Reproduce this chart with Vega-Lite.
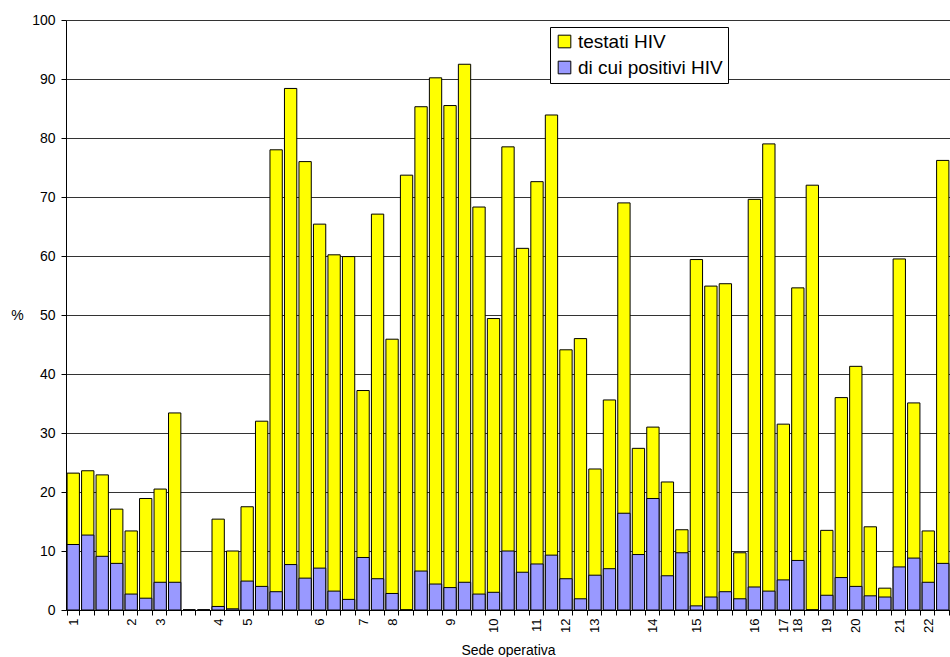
{
  "$schema": "https://vega.github.io/schema/vega-lite/v6.json",
  "width": 884,
  "height": 590,
  "autosize": {"type": "none"},
  "padding": {"left": 66, "top": 20, "right": 0, "bottom": 47},
  "background": "white",
  "config": {
    "view": {"stroke": null},
    "font": "Liberation Sans",
    "axis": {"labelColor": "black", "titleColor": "black", "titleFontWeight": "normal"}
  },
  "data": {
    "values": [
      {"cat": "1", "testati": 23.2, "positivi": 11.1},
      {"cat": "1b", "testati": 23.6, "positivi": 12.7},
      {"cat": "1c", "testati": 22.9, "positivi": 9.1},
      {"cat": "1d", "testati": 17.1, "positivi": 7.9},
      {"cat": "2", "testati": 13.4, "positivi": 2.7},
      {"cat": "2b", "testati": 18.9, "positivi": 2.0},
      {"cat": "3", "testati": 20.5, "positivi": 4.7},
      {"cat": "3b", "testati": 33.4, "positivi": 4.7},
      {"cat": "3c", "testati": 0, "positivi": 0},
      {"cat": "3d", "testati": 0, "positivi": 0},
      {"cat": "4", "testati": 15.4, "positivi": 0.6},
      {"cat": "4b", "testati": 10.0, "positivi": 0.2},
      {"cat": "5", "testati": 17.5, "positivi": 4.9},
      {"cat": "5b", "testati": 32.0, "positivi": 4.0},
      {"cat": "5c", "testati": 78.0, "positivi": 3.1},
      {"cat": "5d", "testati": 88.4, "positivi": 7.7},
      {"cat": "5e", "testati": 76.0, "positivi": 5.4},
      {"cat": "6", "testati": 65.4, "positivi": 7.1},
      {"cat": "6b", "testati": 60.2, "positivi": 3.2},
      {"cat": "6c", "testati": 59.9, "positivi": 1.8},
      {"cat": "7", "testati": 37.2, "positivi": 8.9},
      {"cat": "7b", "testati": 67.1, "positivi": 5.3},
      {"cat": "8", "testati": 45.9, "positivi": 2.8},
      {"cat": "8b", "testati": 73.7, "positivi": 0},
      {"cat": "8c", "testati": 85.3, "positivi": 6.6},
      {"cat": "8d", "testati": 90.2, "positivi": 4.4},
      {"cat": "9", "testati": 85.5, "positivi": 3.8},
      {"cat": "9b", "testati": 92.5, "positivi": 4.7},
      {"cat": "9c", "testati": 68.3, "positivi": 2.7},
      {"cat": "10", "testati": 49.4, "positivi": 3.0},
      {"cat": "10b", "testati": 78.5, "positivi": 10.0},
      {"cat": "10c", "testati": 61.3, "positivi": 6.4},
      {"cat": "11", "testati": 72.6, "positivi": 7.8},
      {"cat": "11b", "testati": 83.9, "positivi": 9.3},
      {"cat": "12", "testati": 44.1, "positivi": 5.3},
      {"cat": "12b", "testati": 46.0, "positivi": 1.9},
      {"cat": "13", "testati": 23.9, "positivi": 5.9},
      {"cat": "13b", "testati": 35.6, "positivi": 7.0},
      {"cat": "13c", "testati": 69.0, "positivi": 16.4},
      {"cat": "13d", "testati": 27.4, "positivi": 9.4},
      {"cat": "14", "testati": 31.0, "positivi": 18.9},
      {"cat": "14b", "testati": 21.7, "positivi": 5.8},
      {"cat": "14c", "testati": 13.6, "positivi": 9.7},
      {"cat": "15", "testati": 59.4, "positivi": 0.7},
      {"cat": "15b", "testati": 54.9, "positivi": 2.2},
      {"cat": "15c", "testati": 55.3, "positivi": 3.1},
      {"cat": "15d", "testati": 9.7, "positivi": 1.9},
      {"cat": "16", "testati": 69.6, "positivi": 3.9},
      {"cat": "16b", "testati": 79.0, "positivi": 3.2},
      {"cat": "17", "testati": 31.5, "positivi": 5.1},
      {"cat": "18", "testati": 54.6, "positivi": 8.4},
      {"cat": "18b", "testati": 72.0, "positivi": 0},
      {"cat": "19", "testati": 13.5, "positivi": 2.5},
      {"cat": "19b", "testati": 36.0, "positivi": 5.5},
      {"cat": "20", "testati": 41.3, "positivi": 4.0},
      {"cat": "20b", "testati": 14.1, "positivi": 2.4},
      {"cat": "20c", "testati": 3.7, "positivi": 2.2},
      {"cat": "21", "testati": 59.5, "positivi": 7.3},
      {"cat": "21b", "testati": 35.1, "positivi": 8.8},
      {"cat": "22", "testati": 13.4, "positivi": 4.7},
      {"cat": "22b", "testati": 76.2, "positivi": 7.9}
    ]
  },
  "encoding": {
    "x": {
      "field": "cat",
      "type": "nominal",
      "sort": null,
      "scale": {"paddingInner": 0.15, "paddingOuter": 0.075},
      "axis": {
        "title": "Sede operativa",
        "titleFontSize": 14,
        "titleY": 44,
        "titleBaseline": "alphabetic",
        "labelAngle": -90,
        "labelFontSize": 13,
        "labelPadding": 3,
        "labelOverlap": false,
        "labelExpr": "isNaN(toNumber(datum.label)) ? '' : datum.label",
        "tickBand": "extent",
        "tickSize": 5,
        "tickColor": "black",
        "domainColor": "black",
        "grid": false
      }
    }
  },
  "layer": [
    {
      "mark": {"type": "bar", "stroke": "black", "strokeWidth": 1},
      "encoding": {
        "y": {
          "field": "testati",
          "type": "quantitative",
          "scale": {"domain": [0, 100], "nice": false},
          "axis": {
            "title": "%",
            "titleAngle": 0,
            "titleX": -49,
            "titleY": 295,
            "titleAlign": "center",
            "titleBaseline": "middle",
            "titleFontSize": 14,
            "values": [0, 10, 20, 30, 40, 50, 60, 70, 80, 90, 100],
            "labelFontSize": 14,
            "labelPadding": 6,
            "tickSize": 5,
            "tickColor": "black",
            "domainColor": "black",
            "grid": true,
            "gridColor": "#333333",
            "gridWidth": 1
          }
        },
        "color": {
          "datum": "testati HIV",
          "type": "nominal",
          "scale": {"domain": ["testati HIV", "di cui positivi HIV"], "range": ["#FFFF00", "#9999FF"]},
          "legend": {
            "orient": "none",
            "legendX": 484,
            "legendY": 7,
            "title": null,
            "strokeColor": "black",
            "fillColor": "white",
            "padding": 5,
            "labelFontSize": 19,
            "labelColor": "black",
            "labelOffset": 4,
            "rowPadding": 6,
            "symbolType": "square",
            "symbolSize": 160,
            "symbolStrokeColor": "black",
            "symbolStrokeWidth": 1,
            "symbolOpacity": 1
          }
        }
      }
    },
    {
      "mark": {"type": "bar", "stroke": "black", "strokeWidth": 1},
      "encoding": {
        "y": {"field": "positivi", "type": "quantitative"},
        "color": {"datum": "di cui positivi HIV", "type": "nominal"}
      }
    }
  ]
}
